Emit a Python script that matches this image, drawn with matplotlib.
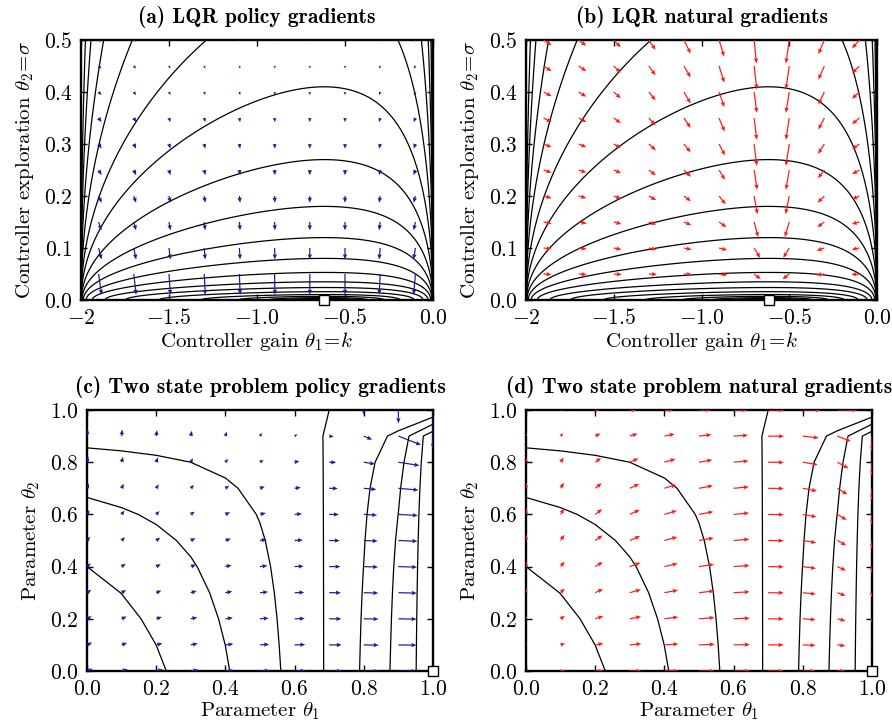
import numpy as np
import matplotlib
matplotlib.use("Agg")
import matplotlib.pyplot as plt

plt.rcParams["mathtext.fontset"] = "cm"
plt.rcParams["font.family"] = ["cmr10", "DejaVu Serif"]
plt.rcParams["axes.unicode_minus"] = False

BLUE = "#1c1c9c"
RED = "#ff1a1a"

# ---------------- LQR example ----------------
# x' = x + u, u ~ N(k x, sigma^2), cost x^2 + R u^2
LQR_R = 1.0
LQR_X0 = 2e-4          # weight of the initial-state cost
K_OPT = -0.618

# height (sigma) that each drawn contour reaches above k = K_OPT
LQR_PEAKS = [3.09, 2.06, 1.37, 0.92, 0.61, 0.41, 0.27, 0.18, 0.12, 0.08,
             0.053, 0.035, 0.024, 0.016, 0.0105, 0.007, 0.0046, 0.003]

ARROW_K = [-1.9, -1.7, -1.5, -1.3, -1.1, -0.9, -0.7, -0.5, -0.3, -0.1]
ARROW_SIGMA = [0.50, 0.45, 0.40, 0.35, 0.30, 0.25, 0.20, 0.15, 0.10, 0.05]

# (a) arrows, in 1/1000 axis units: dk per column, dsigma per row
VANILLA_DK = [17, 13, 8, 6, 4, 2, 0, 0, -6, -10]
VANILLA_DS = [-3, -5, -6, -8, -9, -10, -13, -16, -22, -40]

# (b) arrows, in 1/1000 axis units (rows: sigma 0.5 -> 0.05, cols: k -1.9 -> -0.1)
NATURAL_DK = [
    [46, 44, 40, 38, 38, 29, 13, -19, -34, -42],
    [46, 44, 40, 38, 38, 30, 15, -19, -34, -42],
    [46, 44, 40, 38, 38, 30, 15, -19, -34, -42],
    [46, 44, 40, 38, 38, 32, 15, -19, -34, -42],
    [46, 44, 40, 40, 38, 34, 15, -19, -36, -42],
    [46, 44, 42, 40, 40, 34, 17, -19, -36, -42],
    [46, 44, 42, 42, 40, 38, 19, -21, -38, -42],
    [46, 46, 44, 42, 42, 42, 23, -25, -40, -44],
    [46, 46, 44, 44, 44, 46, 34, -34, -44, -44],
    [46, 46, 46, 46, 46, 48, 38, -38, -46, -46],
]
NATURAL_DS = [
    [-10, -11, -14, -19, -26, -32, -45, -45, -27, -16],
    [-10, -10, -13, -18, -22, -32, -45, -45, -26, -14],
    [-8, -9, -12, -16, -22, -29, -40, -40, -24, -13],
    [-8, -8, -10, -14, -19, -26, -42, -42, -22, -12],
    [-6, -6, -8, -12, -16, -22, -42, -42, -19, -10],
    [-5, -5, -6, -10, -13, -19, -38, -38, -16, -8],
    [-4, -4, -5, -8, -10, -16, -35, -35, -13, -6],
    [-3, -3, -4, -5, -6, -10, -29, -29, -10, -4],
    [-2, -2, -3, -3, -3, -4, -19, -19, -5, -3],
    [-1, -1, -1, -1, -1, -2, -10, -10, -2, -1],
]

# ---------------- two state problem ----------------
THETA = [0.0, 0.1, 0.2, 0.3, 0.4, 0.5, 0.6, 0.7, 0.8, 0.9, 1.0]
STAY_REWARD = [1.0, 1.92]       # reward for staying in state 1 / state 2
TWO_STATE_LEVELS = [0.25, 0.5, 0.75, 1.0, 1.25, 1.5, 1.75]
TWO_STATE_OPT = (1.0, 0.0)


def lqr_cost(k, s):
    d = -k * (2 + k)
    p = (1 + LQR_R * k ** 2) / d
    return s ** 2 * (p + LQR_R) + LQR_X0 * p


kk, ss = np.meshgrid(np.linspace(-1.9995, -0.0005, 600), np.linspace(0, 0.5, 500))
lqr_J = lqr_cost(kk, ss)
lqr_levels = sorted(lqr_cost(K_OPT, h) for h in LQR_PEAKS)

# average reward of the two state chain; theta1 = P(stay | s2), theta2 = P(stay | s1)
r1, r2 = STAY_REWARD
P2, Q2 = np.meshgrid(THETA, THETA)
e, d = 1 - P2, 1 - Q2
den = e + d
safe = np.where(den > 0, den, 1.0)
J2 = np.where(den > 0, (e * Q2 * r1 + d * P2 * r2) / safe, r1)

# vanilla gradient from the grid, natural gradient through the Fisher matrix
gq, gp = np.gradient(J2, THETA, THETA)
nat_u = np.where(den > 0, P2 * e * (r2 * (1 + d) - Q2 * r1) / safe, 0.0)
nat_v = np.where(den > 0, Q2 * d * (r1 * (1 + e) - P2 * r2) / safe, 0.0)

fig = plt.figure(figsize=(8.92, 7.28), dpi=100)
W, H = 892.0, 728.0


def make_axes(l, t, r, b):
    return fig.add_axes([l / W, 1 - b / H, (r - l) / W, (b - t) / H])


def style(ax, title, xlabel, ylabel):
    for sp in ax.spines.values():
        sp.set_linewidth(1.7)
    ax.tick_params(direction="in", top=True, right=True, length=4, width=1,
                   labelsize=15.5, pad=6)
    ax.set_title(title, fontfamily="cmb10", fontsize=15.5, pad=12)
    ax.set_xlabel(xlabel, fontsize=15, labelpad=1)
    ax.set_ylabel(ylabel, fontsize=15, labelpad=6)


quiv = dict(angles="xy", scale_units="xy", width=0.0035, headwidth=3.6,
            headlength=4.2, headaxislength=3.8, zorder=3)

axes = [make_axes(81, 40, 433, 300), make_axes(526, 40, 877, 300),
        make_axes(87, 410, 433, 671), make_axes(526, 410, 872, 671)]

XK, YS = np.meshgrid(ARROW_K, ARROW_SIGMA)
lqr_arrows = [
    (np.tile(VANILLA_DK, (len(ARROW_SIGMA), 1)),
     np.tile(np.array(VANILLA_DS)[:, None], (1, len(ARROW_K))), BLUE,
     "(a) LQR policy gradients"),
    (np.array(NATURAL_DK), np.array(NATURAL_DS), RED,
     "(b) LQR natural gradients"),
]
for ax, (U, V, col, title) in zip(axes[:2], lqr_arrows):
    ax.contour(kk, ss, lqr_J, levels=lqr_levels, colors="k", linewidths=0.9)
    ax.quiver(XK, YS, U, V, color=col, scale=1000, **quiv)
    ax.plot(K_OPT, 0, "s", ms=7, mfc="white", mec="k", mew=1, clip_on=False, zorder=5)
    ax.set_xlim(-2, 0)
    ax.set_ylim(0, 0.5)
    ax.set_xticks([-2, -1.5, -1.0, -0.5, 0.0])
    ax.set_xticklabels(["$-2$", "$-1.5$", "$-1.0$", "$-0.5$", "$0.0$"])
    ax.set_yticks([0, 0.1, 0.2, 0.3, 0.4, 0.5])
    ax.set_yticklabels(["$0.0$", "$0.1$", "$0.2$", "$0.3$", "$0.4$", "$0.5$"])
    style(ax, title, r"Controller gain $\theta_{1}\!=\!k$",
          r"Controller exploration $\theta_{2}\!=\!\sigma$")

two_state = [
    (gp, gq, BLUE, 62, "(c) Two state problem policy gradients"),
    (nat_u, nat_v, RED, 14, "(d) Two state problem natural gradients"),
]
ticks = [0, 0.2, 0.4, 0.6, 0.8, 1.0]
tick_labels = ["$0.0$", "$0.2$", "$0.4$", "$0.6$", "$0.8$", "$1.0$"]
for ax, (U, V, col, sc, title) in zip(axes[2:], two_state):
    ax.contour(P2, Q2, J2, levels=TWO_STATE_LEVELS, colors="k", linewidths=0.9)
    ax.quiver(P2, Q2, U, V, color=col, scale=sc, **quiv)
    ax.plot(*TWO_STATE_OPT, "s", ms=7, mfc="white", mec="k", mew=1, clip_on=False, zorder=5)
    ax.set_xlim(0, 1)
    ax.set_ylim(0, 1)
    ax.set_xticks(ticks)
    ax.set_xticklabels(tick_labels)
    ax.set_yticks(ticks)
    ax.set_yticklabels(tick_labels)
    style(ax, title, r"Parameter $\theta_{1}$", r"Parameter $\theta_{2}$")

fig.savefig("out.png", dpi=100)
